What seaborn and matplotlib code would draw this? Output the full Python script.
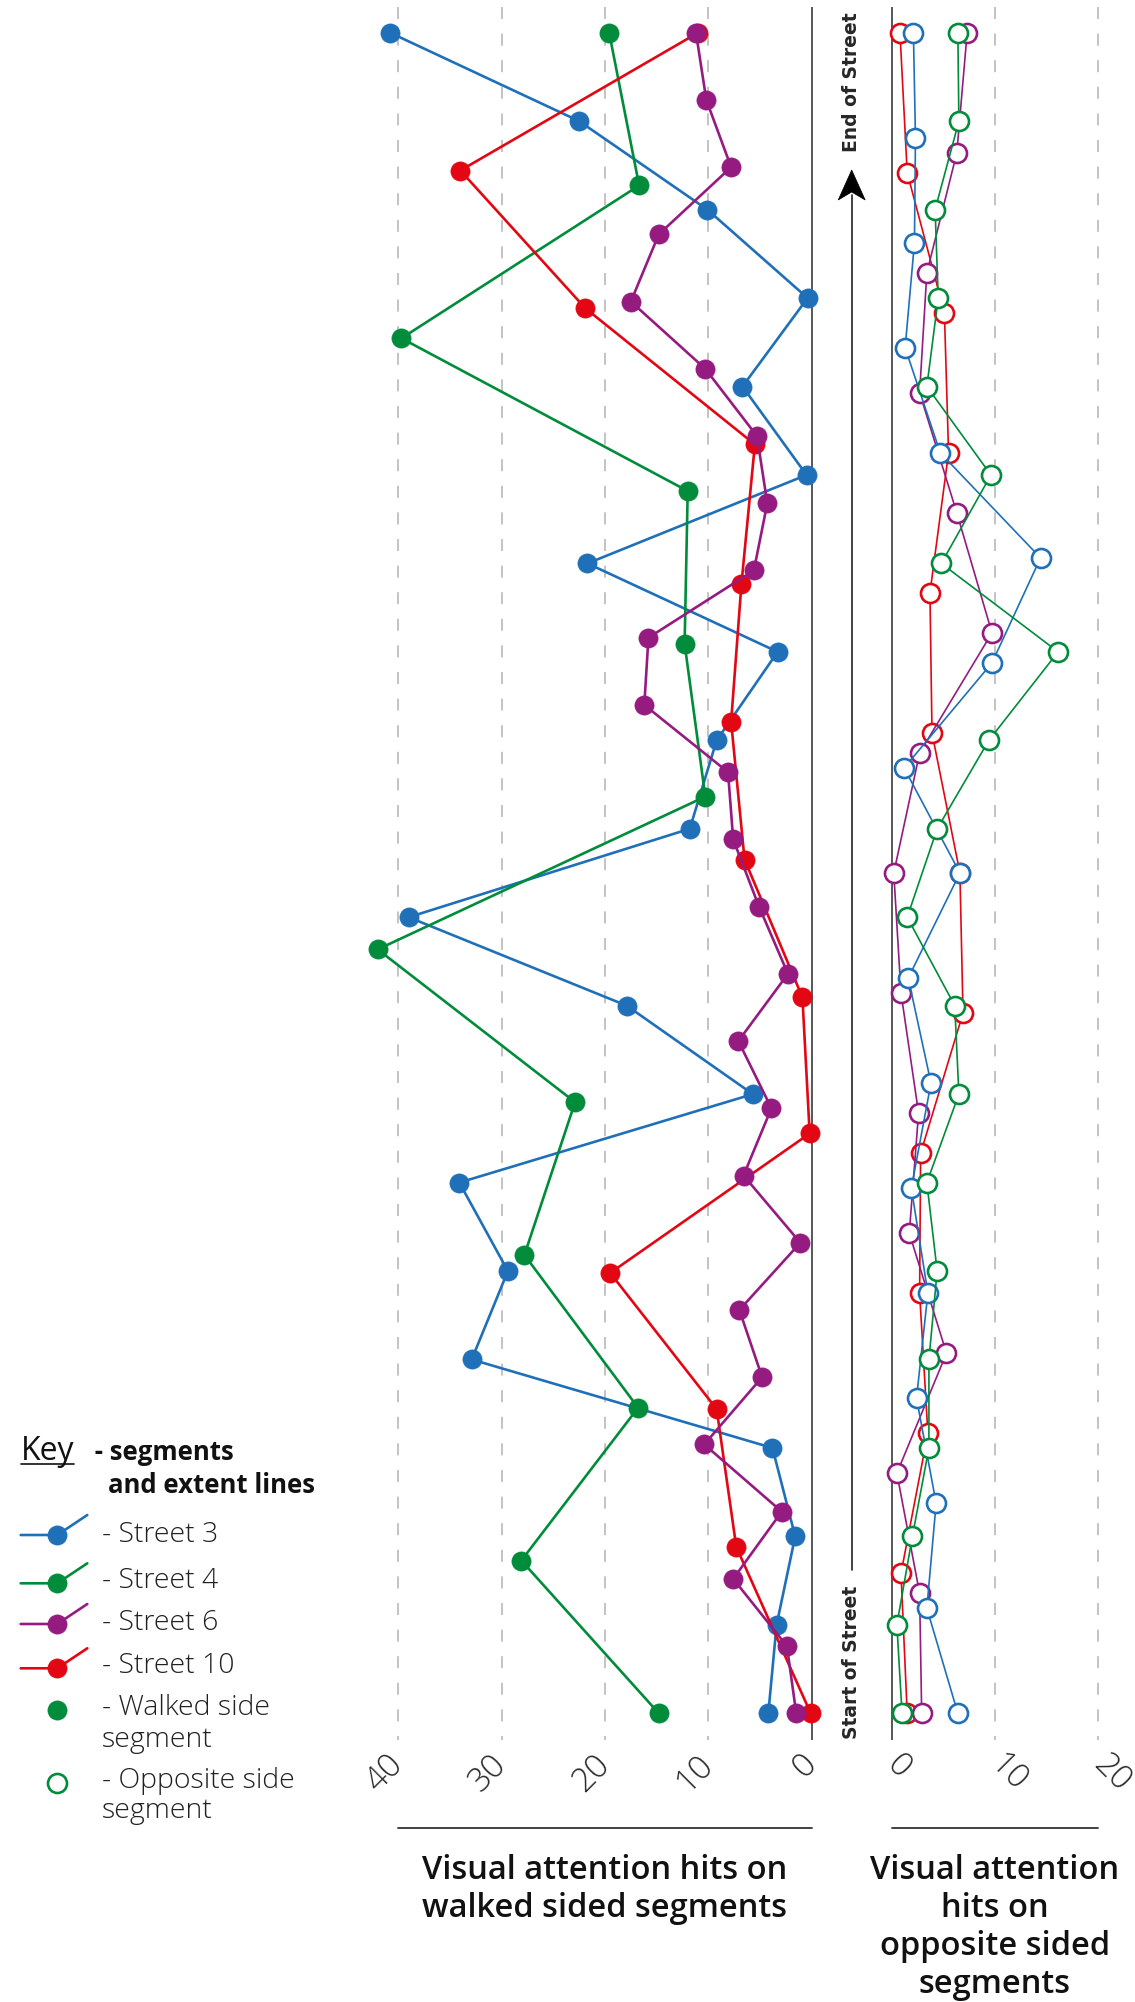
import numpy as np
import pandas as pd
import matplotlib
matplotlib.use("Agg")
import matplotlib.pyplot as plt
import matplotlib.transforms as mtransforms
from matplotlib.lines import Line2D
from matplotlib.patches import Polygon
import seaborn as sns

# ---------------------------------------------------------------- data
streets = ["Street 3", "Street 4", "Street 6", "Street 10"]
street_colors = ["#1f70b8", "#008c3a", "#951b81", "#e30613"]

# Visual attention hits per segment, listed from the start of the street to its end
walked_s3 = [4.2, 3.4, 1.6, 3.8, 32.9, 29.4, 34.1, 5.7, 17.9, 39.0,
             11.8, 9.2, 3.3, 21.7, 0.5, 6.7, 0.4, 10.1, 22.5, 40.8]
walked_s4 = [14.8, 28.1, 16.8, 27.8, 22.9, 42.0, 10.3, 12.3, 12.0, 39.7, 16.7, 19.6]
walked_s6 = [1.5, 2.4, 7.6, 2.9, 10.4, 4.8, 7.0, 1.1, 6.6, 3.9, 7.1, 2.3, 5.1,
             7.6, 8.1, 16.2, 15.8, 5.6, 4.3, 5.3, 10.3, 17.5, 14.8, 7.8, 10.2, 11.2]
walked_s10 = [0.1, 7.3, 9.2, 19.5, 0.2, 0.9, 6.5, 7.8, 6.8, 5.5, 21.9, 34.0, 11.0]
# Street 10's walked segments are not evenly spread (its first one is longer)
walked_s10_pos = [0.0, 0.099, 0.181, 0.262, 0.345, 0.426, 0.508,
                  0.590, 0.672, 0.755, 0.836, 0.918, 1.0]

opposite_s3 = [6.4, 3.4, 4.3, 2.4, 3.5, 1.9, 3.8, 1.6, 6.6, 1.2, 9.7,
               14.4, 4.7, 1.3, 2.2, 2.3, 2.1]
opposite_s4 = [1.0, 0.5, 2.0, 3.6, 3.6, 4.4, 3.4, 6.5, 6.1, 1.5,
               4.4, 9.4, 16.1, 4.8, 9.6, 3.4, 4.5, 4.2, 6.5, 6.4]
opposite_s6 = [2.9, 2.7, 0.5, 5.3, 1.7, 2.6, 0.9, 0.2, 2.7, 9.7, 6.3, 2.7, 3.4, 6.3, 7.3]
opposite_s10 = [1.5, 0.9, 3.5, 2.7, 2.8, 6.9, 6.6, 3.9, 3.7, 5.5, 5.1, 1.5, 0.8]

left_ticks = [40, 30, 20, 10, 0]
right_ticks = [0, 10, 20]


def segments(values, street, side, pos=None):
    if pos is None:
        pos = np.linspace(0.0, 1.0, len(values))
    return pd.DataFrame({"street": street, "side": side,
                         "hits": values, "position": pos})


df = pd.concat([
    segments(walked_s3, "Street 3", "walked"),
    segments(walked_s4, "Street 4", "walked"),
    segments(walked_s6, "Street 6", "walked"),
    segments(walked_s10, "Street 10", "walked", walked_s10_pos),
    segments(opposite_s3, "Street 3", "opposite"),
    segments(opposite_s4, "Street 4", "opposite"),
    segments(opposite_s6, "Street 6", "opposite"),
    segments(opposite_s10, "Street 10", "opposite"),
], ignore_index=True)

palette = dict(zip(streets, street_colors))

# ---------------------------------------------------------------- figure
sns.set_style("white")
plt.rcParams["font.family"] = ["Open Sans", "DejaVu Sans"]

W, H = 1135, 2002
fig = plt.figure(figsize=(W / 100, H / 100), dpi=100)
pix = mtransforms.Affine2D().scale(1 / W, -1 / H).translate(0, 1) + fig.transFigure

ax_top, ax_bot = 7.0, 1740.0
y_lo, y_hi = -0.015887, 1.01529
ax_l = fig.add_axes([357.0 / W, (H - ax_bot) / H, 475.4 / W, (ax_bot - ax_top) / H])
ax_r = fig.add_axes([871.03 / W, (H - ax_bot) / H, 242.9 / W, (ax_bot - ax_top) / H])

grid_kw = dict(color="#c4c4c4", linewidth=1.44, linestyle=(0, (6.0, 7.3)), zorder=0.5)
axis_kw = dict(color="#4a4a4a", linewidth=1.3, zorder=0.6)

for ax, ticks in ((ax_l, left_ticks), (ax_r, right_ticks)):
    for t in ticks:
        kw = axis_kw if t == 0 else grid_kw
        ax.plot([t, t], [1, 0], transform=ax.get_xaxis_transform(),
                solid_capstyle="butt", dash_capstyle="butt", **kw)

# walked side: filled markers, left panel (hits increase to the left)
for street, z in zip(["Street 3", "Street 4", "Street 10", "Street 6"], [3, 4, 5, 6]):
    sub = df[(df["street"] == street) & (df["side"] == "walked")]
    c = palette[street]
    sns.lineplot(data=sub, x="hits", y="position", sort=False, estimator=None,
                 errorbar=None, legend=False, ax=ax_l, color=c, linewidth=1.9,
                 marker="o", markersize=13.8, markeredgecolor=c,
                 markeredgewidth=0.5, zorder=z, clip_on=False)

# opposite side: open markers, right panel
for street, z in zip(["Street 10", "Street 6", "Street 3", "Street 4"], [3, 4, 5, 6]):
    sub = df[(df["street"] == street) & (df["side"] == "opposite")]
    c = palette[street]
    sns.lineplot(data=sub, x="hits", y="position", sort=False, estimator=None,
                 errorbar=None, legend=False, ax=ax_r, color=c, linewidth=1.2,
                 marker="o", markersize=13.7, markerfacecolor="white",
                 markeredgecolor=c, markeredgewidth=1.9, zorder=z, clip_on=False)

tick_font = dict(fontsize=24, color="#2a2a2a", fontweight="light")
ax_l.set_xlim(44, -2)
ax_r.set_xlim(-2, 21.5)
for ax in (ax_l, ax_r):
    ax.set_ylim(y_lo, y_hi)
    ax.set_xlabel("")
    ax.set_ylabel("")
    ax.set_yticks([])
    ax.set_facecolor("none")
    for s in ax.spines.values():
        s.set_visible(False)
    ax.tick_params(axis="x", length=0, pad=14)

ax_l.set_xticks(left_ticks)
ax_l.set_xticklabels([str(t) for t in left_ticks], rotation=45, ha="right",
                     va="center", rotation_mode="anchor", **tick_font)
ax_r.set_xticks(right_ticks)
ax_r.set_xticklabels([str(t) for t in right_ticks], rotation=-45, ha="left",
                     va="center", rotation_mode="anchor", **tick_font)

# ---------------------------------------------------------------- street direction
fig.add_artist(Line2D([851.7, 851.7], [1570, 195], transform=pix,
                      color="#222222", linewidth=1.2))
fig.add_artist(Polygon([[851.7, 170], [838.2, 200], [851.7, 192], [865.2, 200]],
                       closed=True, transform=pix, facecolor="black",
                       edgecolor="black", linewidth=0.5))
fig.text(851.7, 82, "End of Street", transform=pix, rotation=90, ha="center",
         va="center", fontsize=13.5, fontweight="bold", family="DejaVu Sans")
fig.text(851.7, 1662.5, "Start of Street", transform=pix, rotation=90, ha="center",
         va="center", fontsize=13.5, fontweight="bold", family="DejaVu Sans")

# ---------------------------------------------------------------- axis titles
rule_kw = dict(transform=pix, color="#333333", linewidth=1.3)
fig.add_artist(Line2D([398.3, 811.7], [1828, 1828], **rule_kw))
fig.add_artist(Line2D([891.7, 1098.3], [1828, 1828], **rule_kw))

title_font = dict(fontsize=23.5, fontweight="semibold", color="#111111",
                  ha="center", va="baseline", transform=pix)
for line, yb in zip(["Visual attention hits on", "walked sided segments"],
                    [1879, 1916.7]):
    fig.text(605, yb, line, **title_font)
for line, yb in zip(["Visual attention", "hits on", "opposite sided", "segments"],
                    [1879, 1916.7, 1955, 1992.7]):
    fig.text(995, yb, line, **title_font)

# ---------------------------------------------------------------- key
key_txt = fig.text(20.7, 1460, "Key", transform=pix, fontsize=23, color="#111111",
                   va="baseline", ha="left")
fig.text(88, 1460, " - segments", transform=pix, fontsize=18.5, fontweight="bold",
         color="#111111", va="baseline", ha="left")
fig.text(108, 1492.7, "and extent lines", transform=pix, fontsize=18.5,
         fontweight="bold", color="#111111", va="baseline", ha="left")

label_font = dict(transform=pix, fontsize=20.5, fontweight="light", color="#222222",
                  va="baseline", ha="left")
for street, marker_y, base_y in zip(streets, [1535, 1583.3, 1624, 1668.3],
                                    [1541.7, 1588.3, 1630, 1673.3]):
    c = palette[street]
    fig.add_artist(Line2D([20.7, 57.3, 87.3], [marker_y, marker_y, marker_y - 20],
                          transform=pix, color=c, linewidth=1.9))
    fig.add_artist(Line2D([57.3], [marker_y], transform=pix, marker="o",
                          markersize=13.8, color=c, markeredgecolor=c,
                          markeredgewidth=0.5, linestyle="none"))
    fig.text(101.7, base_y, "- " + street, **label_font)

fig.add_artist(Line2D([57.3], [1709.5], transform=pix, marker="o", markersize=13.8,
                      color=street_colors[1], markeredgecolor=street_colors[1],
                      markeredgewidth=0.5, linestyle="none"))
fig.text(101.7, 1715, "- Walked side", **label_font)
fig.text(101.7, 1746.7, "segment", **label_font)
fig.add_artist(Line2D([57.3], [1783.3], transform=pix, marker="o", markersize=13.7,
                      markerfacecolor="white", markeredgecolor=street_colors[1],
                      markeredgewidth=1.9, linestyle="none"))
fig.text(101.7, 1788.3, "- Opposite side", **label_font)
fig.text(101.7, 1818.3, "segment", **label_font)

# underline under "Key"
fig.canvas.draw()
bb = key_txt.get_window_extent()
fig.add_artist(Line2D([bb.x0, bb.x1], [1464, 1464], transform=pix,
                      color="#111111", linewidth=1.2))

fig.savefig("out.png", dpi=100)
